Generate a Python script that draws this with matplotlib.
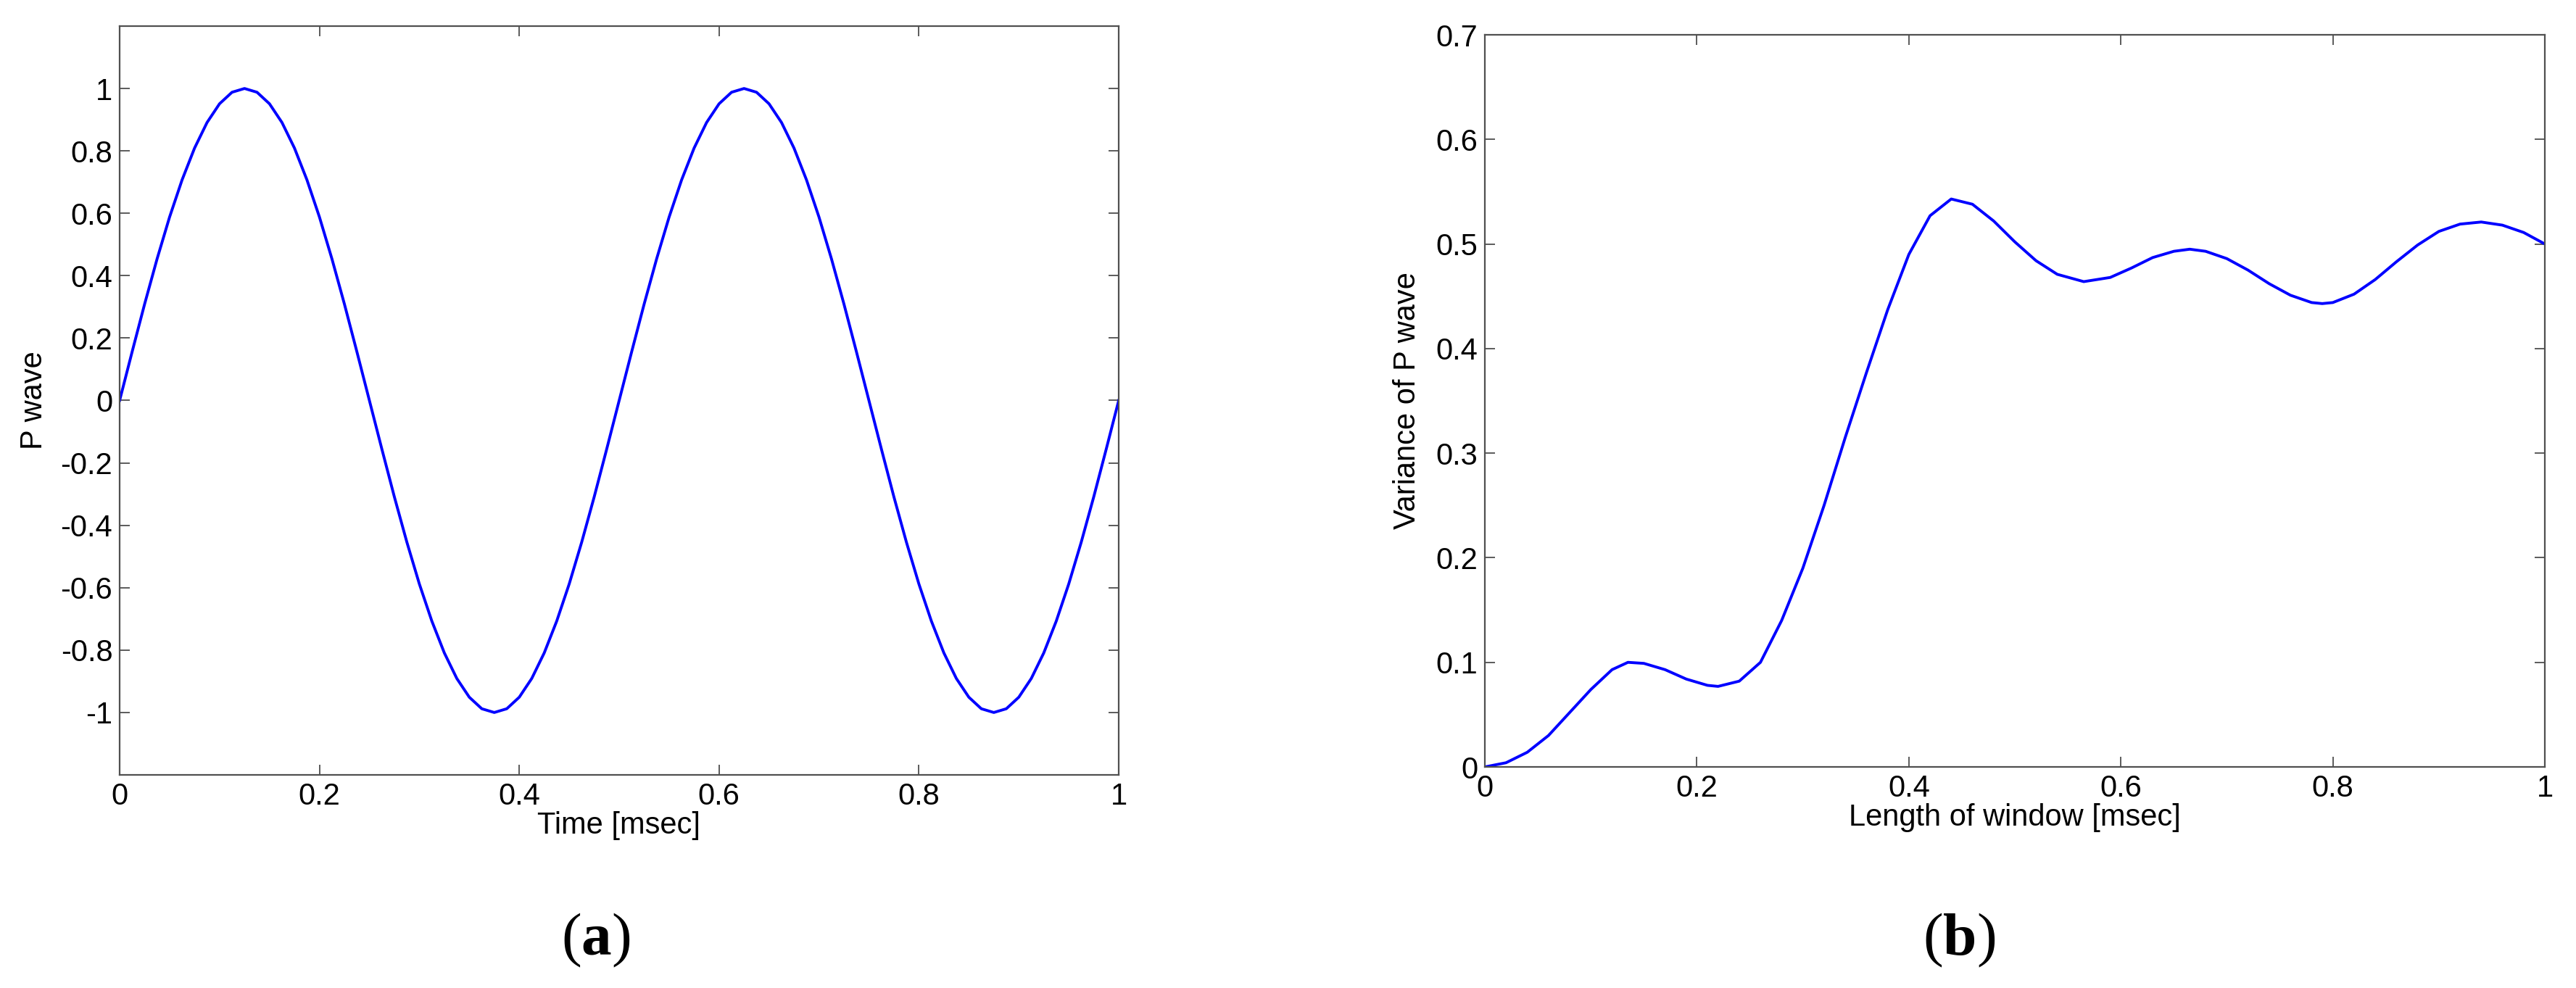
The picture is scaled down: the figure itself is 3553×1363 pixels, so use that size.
import matplotlib
matplotlib.use("Agg")
import matplotlib.pyplot as plt

plt.rcParams['font.family'] = ['Liberation Sans', 'DejaVu Sans']
plt.rcParams['mathtext.fontset'] = 'custom'
plt.rcParams['mathtext.rm'] = 'Liberation Serif'
plt.rcParams['mathtext.bf'] = 'Liberation Serif:bold'

# --- (a) P wave, every 0.0125 ms ---
t_a = [i * 0.0125 for i in range(81)]
quarter = [0.0, 0.156, 0.309, 0.454, 0.588, 0.707, 0.809, 0.891, 0.951, 0.988, 1.0]
half = quarter + quarter[-2::-1]
p_wave = half + [-v for v in half[1:]]
p_wave = p_wave + p_wave[1:]

# --- (b) variance of P wave vs window length ---
win_len = [0.0, 0.02, 0.04, 0.06, 0.08, 0.1, 0.12, 0.135, 0.15, 0.17, 0.19,
           0.21, 0.22, 0.24, 0.26, 0.28, 0.3, 0.32, 0.34, 0.36, 0.38, 0.4,
           0.42, 0.44, 0.46, 0.48, 0.5, 0.52, 0.54, 0.565, 0.59, 0.61, 0.63,
           0.65, 0.665, 0.68, 0.7, 0.72, 0.74, 0.76, 0.78, 0.79, 0.8, 0.82,
           0.84, 0.86, 0.88, 0.9, 0.92, 0.94, 0.96, 0.98, 1.0]
variance = [0.0, 0.004, 0.014, 0.030, 0.052, 0.074, 0.093, 0.100, 0.099, 0.093, 0.084,
            0.078, 0.077, 0.082, 0.100, 0.140, 0.190, 0.250, 0.315, 0.377, 0.437, 0.490,
            0.527, 0.543, 0.538, 0.522, 0.502, 0.484, 0.471, 0.464, 0.468, 0.477, 0.487,
            0.493, 0.495, 0.493, 0.486, 0.475, 0.462, 0.451, 0.444, 0.443, 0.444, 0.452,
            0.466, 0.483, 0.499, 0.512, 0.519, 0.521, 0.518, 0.511, 0.500]

x_ticks = [0, 0.2, 0.4, 0.6, 0.8, 1]
x_ticklabels = ['0', '0.2', '0.4', '0.6', '0.8', '1']
ya_ticks = [-1, -0.8, -0.6, -0.4, -0.2, 0, 0.2, 0.4, 0.6, 0.8, 1]
ya_ticklabels = ['-1', '-0.8', '-0.6', '-0.4', '-0.2', '0', '0.2', '0.4', '0.6', '0.8', '1']
yb_ticks = [0, 0.1, 0.2, 0.3, 0.4, 0.5, 0.6, 0.7]
yb_ticklabels = ['0', '0.1', '0.2', '0.3', '0.4', '0.5', '0.6', '0.7']

FS = 30
fig = plt.figure(figsize=(35.53, 13.63), dpi=100)
ax1 = fig.add_axes([0.04644, 0.21570, 0.38784, 0.75789])
ax2 = fig.add_axes([0.57642, 0.22377, 0.41148, 0.74101])


def style(ax):
    for s in ax.spines.values():
        s.set_color('#505050')
        s.set_linewidth(1.6)
    ax.tick_params(direction='in', length=10, width=1.2, color='#404040',
                   top=True, right=True, labelsize=FS, pad=7)


ax1.plot(t_a, p_wave, color='#0000ff', lw=2.8)
ax1.set_xlim(0, 1)
ax1.set_ylim(-1.2, 1.2)
ax1.set_xticks(x_ticks, x_ticklabels)
ax1.set_yticks(ya_ticks, ya_ticklabels)
style(ax1)
ax1.set_xlabel('Time [msec]', fontsize=FS, labelpad=0)
ax1.set_ylabel('P wave', fontsize=FS, labelpad=12)

ax2.plot(win_len, variance, color='#0000ff', lw=2.8)
ax2.set_xlim(0, 1)
ax2.set_ylim(0, 0.7)
ax2.set_xticks(x_ticks, x_ticklabels)
ax2.set_yticks(yb_ticks, yb_ticklabels)
style(ax2)
ax2.set_xlabel('Length of window [msec]', fontsize=FS, labelpad=0)
ax2.set_ylabel('Variance of P wave', fontsize=FS, labelpad=14)

fig.text(0.2314, 0.0484, r'$\mathrm{(}\mathbf{a}\mathrm{)}$', fontsize=60,
         ha='center', va='center')
fig.text(0.7605, 0.0484, r'$\mathrm{(}\mathbf{b}\mathrm{)}$', fontsize=60,
         ha='center', va='center')

fig.savefig('out.png', dpi=100)
